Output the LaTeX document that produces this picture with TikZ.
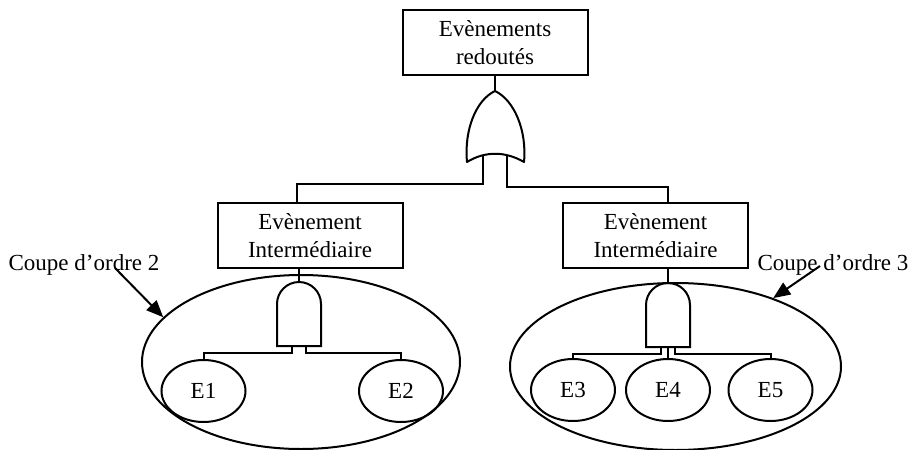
\documentclass[tikz,border=0pt]{standalone}
\usepackage{fontspec}
\setmainfont{Liberation Serif}
\usetikzlibrary{shapes.geometric,arrows.meta,calc}
\tikzset{
  event/.style={draw, rectangle, align=center, minimum width=92.5pt, minimum height=32.5pt, inner sep=0pt},
  basic/.style={draw, ellipse, minimum width=42pt, minimum height=31pt, inner sep=0pt},
  cut/.style={draw, ellipse, inner sep=0pt},
  cutlabel/.style={inner sep=0pt},
  pointer/.style={-{Triangle[length=8.5pt,width=7pt]}},
}

\begin{document}
\begin{tikzpicture}[x=0.5pt, y=-0.5pt, line width=1pt, font=\fontsize{11.5}{14}\selectfont]
\useasboundingbox (0,0) rectangle (911,450);

% events
\node[event] (top) at (495,42.5) {Evènements\\redoutés};
\node[event] (ev1) at (310,235.5) {Evènement\\Intermédiaire};
\node[event] (ev2) at (655.5,235.5) {Evènement\\Intermédiaire};

% cuts
\node[cut, minimum width=159pt, minimum height=87pt] (cut2) at (301,362) {};
\node[cut, minimum width=165.5pt, minimum height=83.5pt] (cut3) at (675.5,366.5) {};

\foreach \n/\x/\y in {1/203.5/391, 2/401/391, 3/573/390, 4/668/390, 5/770.5/390}
  \node[basic] (e\n) at (\x,\y) {E\n};

% or gate
\coordinate (or) at (495,91);
\draw[line join=round] (or) .. controls (476,100) and (464,130) .. (467,162)
  .. controls (485,151) and (505,151) .. (524,162)
  .. controls (527,130) and (514,100) .. (or) -- cycle;
\draw (top) -- (or);
\coordinate (orL) at (483,155);
\coordinate (orR) at (507,155);
\coordinate (k1) at (297,184);
\coordinate (k2) at (668,187);
\draw (orL) |- (k1) -- (k1 |- ev1.north);
\draw (orR) |- (k2) -- (k2 |- ev2.north);

% and gates
\foreach \g/\cx/\ty in {g2/299/282, g3/668/283} {
  \draw (\cx-22,\ty+64) -- (\cx-22,\ty+22) arc[start angle=180, end angle=360, radius=22] -- (\cx+22,\ty+64) -- cycle;
  \coordinate (\g) at (\cx,\ty);
  \coordinate (\g b) at (\cx,\ty+64);
}
\draw (ev1.south -| g2) -- (g2);
\draw (ev2.south -| g3) -- (g3);
\draw ($(g2b)+(-7,0)$) -- ++(0,7) -| (e1.north);
\draw ($(g2b)+(7,0)$) -- ++(0,7) -| (e2.north);
\draw ($(g3b)+(-7,0)$) -- ++(0,7) -| (e3.north);
\draw (g3b) -- (e4.north);
\draw ($(g3b)+(7,0)$) -- ++(0,7) -| (e5.north);

% labels
\node[cutlabel] (lbl2) at (84,265) {Coupe d’ordre 2};
\node[cutlabel] (lbl3) at (833,265) {Coupe d’ordre 3};
\coordinate (a2) at (115,268);
\coordinate (a3) at (820,266);
\draw[pointer] (a2) -- (cut2.162);
\draw[pointer] (a3) -- (cut3.35);
\end{tikzpicture}
\end{document}
